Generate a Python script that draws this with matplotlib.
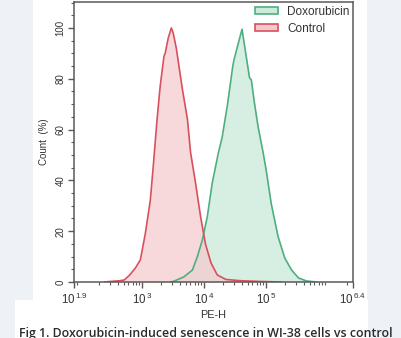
import numpy as np
import matplotlib
matplotlib.use('Agg')
import matplotlib.pyplot as plt
from matplotlib.patches import Patch, Rectangle
from matplotlib.ticker import FixedLocator, NullFormatter, MultipleLocator

# log10(PE-H) positions and count (%)
ctrl_exp = [2.40, 2.48, 2.64, 2.71, 2.80, 2.89, 2.97, 3.05, 3.13, 3.18, 3.24, 3.29, 3.35, 3.37,
            3.42, 3.47, 3.50, 3.55, 3.65, 3.73, 3.78, 3.86, 3.94, 4.02, 4.11, 4.21, 4.35,
            4.59, 4.92, 5.24]
ctrl_cnt = [0.0, 0.2, 0.5, 0.8, 2.8, 5.5, 8.7, 19, 32, 46, 64, 77, 88.7, 90,
            96, 100, 98, 92, 75.6, 64, 51, 39, 26, 15, 7.5, 2.8, 1.0,
            0.5, 0.2, 0.0]

doxo_exp = [3.45, 3.51, 3.67, 3.81, 3.89, 3.97, 4.05, 4.13, 4.23, 4.29, 4.38, 4.46, 4.48,
            4.54, 4.61, 4.67, 4.73, 4.76, 4.81, 4.87, 4.95, 5.00, 5.08, 5.19, 5.30, 5.41,
            5.52, 5.65, 5.81]
doxo_cnt = [0.0, 0.3, 2.0, 4.7, 10, 16.5, 25.7, 39, 51, 57, 70.5, 84.8, 87.4,
            93, 99.5, 90, 80.5, 79.5, 70.5, 61, 51, 44, 31, 18, 9.4, 4.7,
            1.6, 0.4, 0.0]

xtick_exp = [1.9, 3, 4, 5, 6.4]
xtick_labels = [r'$10^{\,1.9}$', r'$10^{\,3}$', r'$10^{\,4}$', r'$10^{\,5}$', r'$10^{\,6.4}$']
yticks = [0, 20, 40, 60, 80, 100]

ctrl_line, ctrl_fill = '#d9505c', '#f4c9cd'
doxo_line, doxo_fill = '#4fae80', '#cdebdb'

plt.rcParams['font.family'] = ['Liberation Sans', 'DejaVu Sans']
plt.rcParams['mathtext.fontset'] = 'custom'
plt.rcParams['mathtext.rm'] = 'Liberation Sans'
plt.rcParams['mathtext.it'] = 'Liberation Sans'

fig = plt.figure(figsize=(4.01, 3.38), dpi=100, facecolor='#eef2f6')
W, H = 401, 338
fig.patches.append(Rectangle((33 / W, 0), (367 - 33) / W, 1, transform=fig.transFigure,
                             facecolor='white', edgecolor='none', zorder=-10))
fig.patches.append(Rectangle((15 / W, 0), (368 - 15) / W, 38 / H, transform=fig.transFigure,
                             facecolor='white', edgecolor='none', zorder=-10))

ax = fig.add_axes([74 / W, 1 - 282 / H, (353 - 74) / W, 280 / H])
ax.set_facecolor('white')

dx = 10 ** np.array(doxo_exp)
cx = 10 ** np.array(ctrl_exp)
ax.fill_between(dx, doxo_cnt, color=doxo_fill, alpha=0.8, lw=0)
ax.fill_between(cx, ctrl_cnt, color=ctrl_fill, alpha=0.7, lw=0)
ax.plot(dx, doxo_cnt, color=doxo_line, lw=1.2)
ax.plot(cx, ctrl_cnt, color=ctrl_line, lw=1.2)

ax.set_xscale('log')
ax.set_xlim(10 ** 1.9, 10 ** 6.4)
ax.set_ylim(0, 110.2)
ax.xaxis.set_major_locator(FixedLocator([10 ** e for e in xtick_exp]))
ax.set_xticklabels(xtick_labels)
ax.xaxis.set_minor_formatter(NullFormatter())
ax.set_yticks(yticks)
ax.yaxis.set_minor_locator(MultipleLocator(5))
for lab in ax.get_yticklabels():
    lab.set_rotation(90)
    lab.set_va('center')

for s in ax.spines.values():
    s.set_color('#5a5a5a')
    s.set_linewidth(1.1)
ax.tick_params(axis='both', which='major', length=4, width=1, color='#5a5a5a',
               labelsize=7, labelcolor='#333333', pad=2)
ax.tick_params(axis='both', which='minor', length=2, width=0.8, color='#5a5a5a')
ax.tick_params(axis='x', labelsize=8.3, pad=3)

ax.set_ylabel('Count  (%)', fontsize=7, color='#333333', labelpad=5)
ax.set_xlabel('PE-H', fontsize=7.8, color='#333333', labelpad=2)

handles = [Patch(facecolor=doxo_fill, edgecolor=doxo_line, lw=1.2, label='Doxorubicin'),
           Patch(facecolor=ctrl_fill, edgecolor=ctrl_line, lw=1.2, label='Control')]
ax.legend(handles=handles, loc='upper right', frameon=False, fontsize=8.5,
          handlelength=1.9, handleheight=0.6, handletextpad=0.8, labelspacing=0.45,
          borderaxespad=0.0, labelcolor='#333333', borderpad=0.3)

fig.text(206 / W, 1 - 333 / H, 'Fig 1. Doxorubicin-induced senescence in WI-38 cells vs control',
         ha='center', va='center', fontsize=8.9, family=['Open Sans', 'DejaVu Sans'],
         fontweight='semibold', color='#2b2b2b')

fig.savefig('out.png', dpi=100, facecolor=fig.get_facecolor())
